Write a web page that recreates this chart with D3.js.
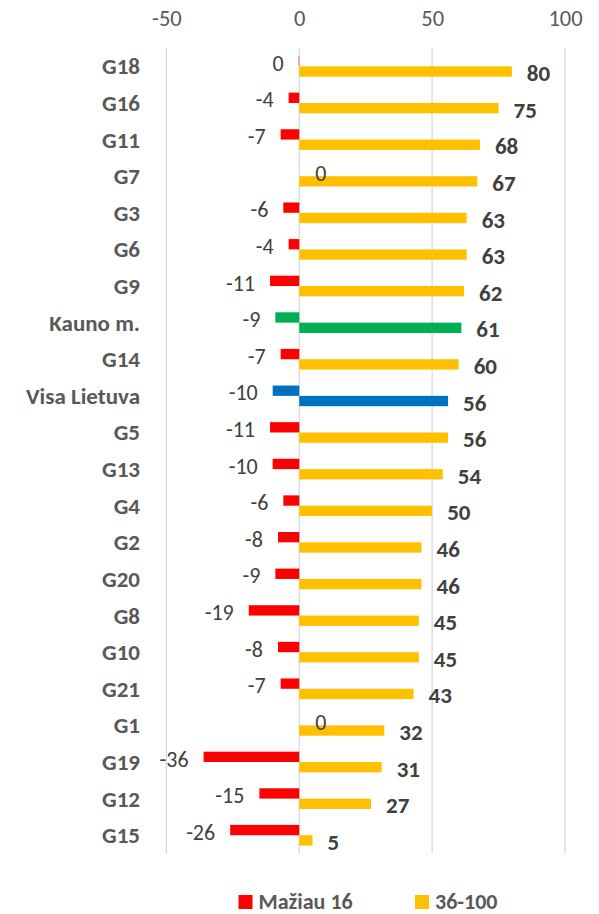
<!DOCTYPE html>
<html><head><meta charset="utf-8">
<script src="https://cdn.jsdelivr.net/npm/d3@7"></script>
<style>
body{margin:0;background:#fff;}
svg{display:block;font-family:Calibri,Carlito,Lato,sans-serif;}
</style></head>
<body>
<script>
const categories = ["G18","G16","G11","G7","G3","G6","G9","Kauno m.","G14","Visa Lietuva","G5","G13","G4","G2","G20","G8","G10","G21","G1","G19","G12","G15"];
const lessThan16 = [-0.2,-4,-7,0,-6,-4,-11,-9,-7,-10,-11,-10,-6,-8,-9,-19,-8,-7,0,-36,-15,-26];
const range36to100 = [80,75,68,67,63,63,62,61,60,56,56,54,50,46,46,45,45,43,32,31,27,5];
const xTicks = [-50,0,50,100];
const seriesNames = ["Mažiau 16","36-100"];
const seriesColors = ["#FF0000","#FFC000"];
const specialColors = {"Kauno m.":"#00B050","Visa Lietuva":"#0070C0"};

const W=599,H=914;
const svg=d3.select("body").append("svg").attr("width",W).attr("height",H);
const x=d3.scaleLinear().domain([-50,100]).range([166.4,565]);
const y=d3.scaleBand().domain(categories).range([48,853.5]).padding(0);
const bw=y.bandwidth();
const sub=d3.scaleBand().domain([0,1]).range([bw*0.219,bw*0.783]).padding(0);

// gridlines
svg.append("g").selectAll("line").data(xTicks).join("line")
  .attr("x1",d=>x(d)).attr("x2",d=>x(d)).attr("y1",48).attr("y2",853.5)
  .attr("stroke","#D9D9D9").attr("stroke-width",1.3);

// top axis
const ax=d3.axisTop(x).tickValues(xTicks).tickSize(0).tickPadding(0).tickFormat(d=>String(d));
const axg=svg.append("g").attr("transform","translate(0,26)").call(ax);
axg.select(".domain").remove();
axg.selectAll("text").attr("font-size",22.5).attr("fill","#595959")
  .attr("font-family","Calibri,Carlito,Lato,sans-serif");

const rows=categories.map((c,i)=>({c,neg:lessThan16[i],pos:range36to100[i]}));

// category labels
svg.append("g").selectAll("text").data(rows).join("text")
  .attr("x",140).attr("y",d=>y(d.c)+bw/2).attr("dy","0.35em")
  .attr("text-anchor","end").attr("font-size",23).attr("font-weight","bold")
  .attr("fill","#595959").text(d=>d.c);

// red (negative) bars
svg.append("g").selectAll("rect").data(rows).join("rect")
  .attr("x",d=>x(Math.min(0,d.neg))).attr("width",d=>Math.abs(x(d.neg)-x(0)))
  .attr("y",d=>y(d.c)+sub(0)).attr("height",sub.bandwidth())
  .attr("fill",d=>specialColors[d.c]||seriesColors[0]);
// yellow bars
svg.append("g").selectAll("rect").data(rows).join("rect")
  .attr("x",x(0)).attr("width",d=>x(d.pos)-x(0))
  .attr("y",d=>y(d.c)+sub(1)).attr("height",sub.bandwidth())
  .attr("fill",d=>specialColors[d.c]||seriesColors[1]);

// labels
const fmt=v=>{const r=Math.round(v);return r===0?"0":String(r);};
svg.append("g").selectAll("text").data(rows).join("text")
  .attr("x",d=>d.neg<0?x(d.neg)-15:x(0)+16)
  .attr("text-anchor",d=>d.neg<0?"end":"start")
  .attr("y",d=>y(d.c)+sub(0)+sub.bandwidth()/2+2).attr("dy","0.35em")
  .attr("font-size",22).attr("fill","#404040").text(d=>fmt(d.neg));
svg.append("g").selectAll("text").data(rows).join("text")
  .attr("x",d=>x(d.pos)+15).attr("text-anchor","start")
  .attr("y",d=>y(d.c)+sub(1)+sub.bandwidth()/2+1.5).attr("dy","0.35em")
  .attr("font-size",23).attr("font-weight","bold").attr("fill","#404040").text(d=>fmt(d.pos));

// legend
const lg=svg.append("g");
const lx=[238.5,415];
seriesNames.forEach((n,i)=>{
  lg.append("rect").attr("x",lx[i]).attr("y",895).attr("width",14).attr("height",14).attr("fill",seriesColors[i]);
  lg.append("text").attr("x",lx[i]+20).attr("y",901).attr("dy","0.35em")
    .attr("font-size",22).attr("font-weight","bold").attr("fill","#595959").text(n);
});
</script>
</body></html>
